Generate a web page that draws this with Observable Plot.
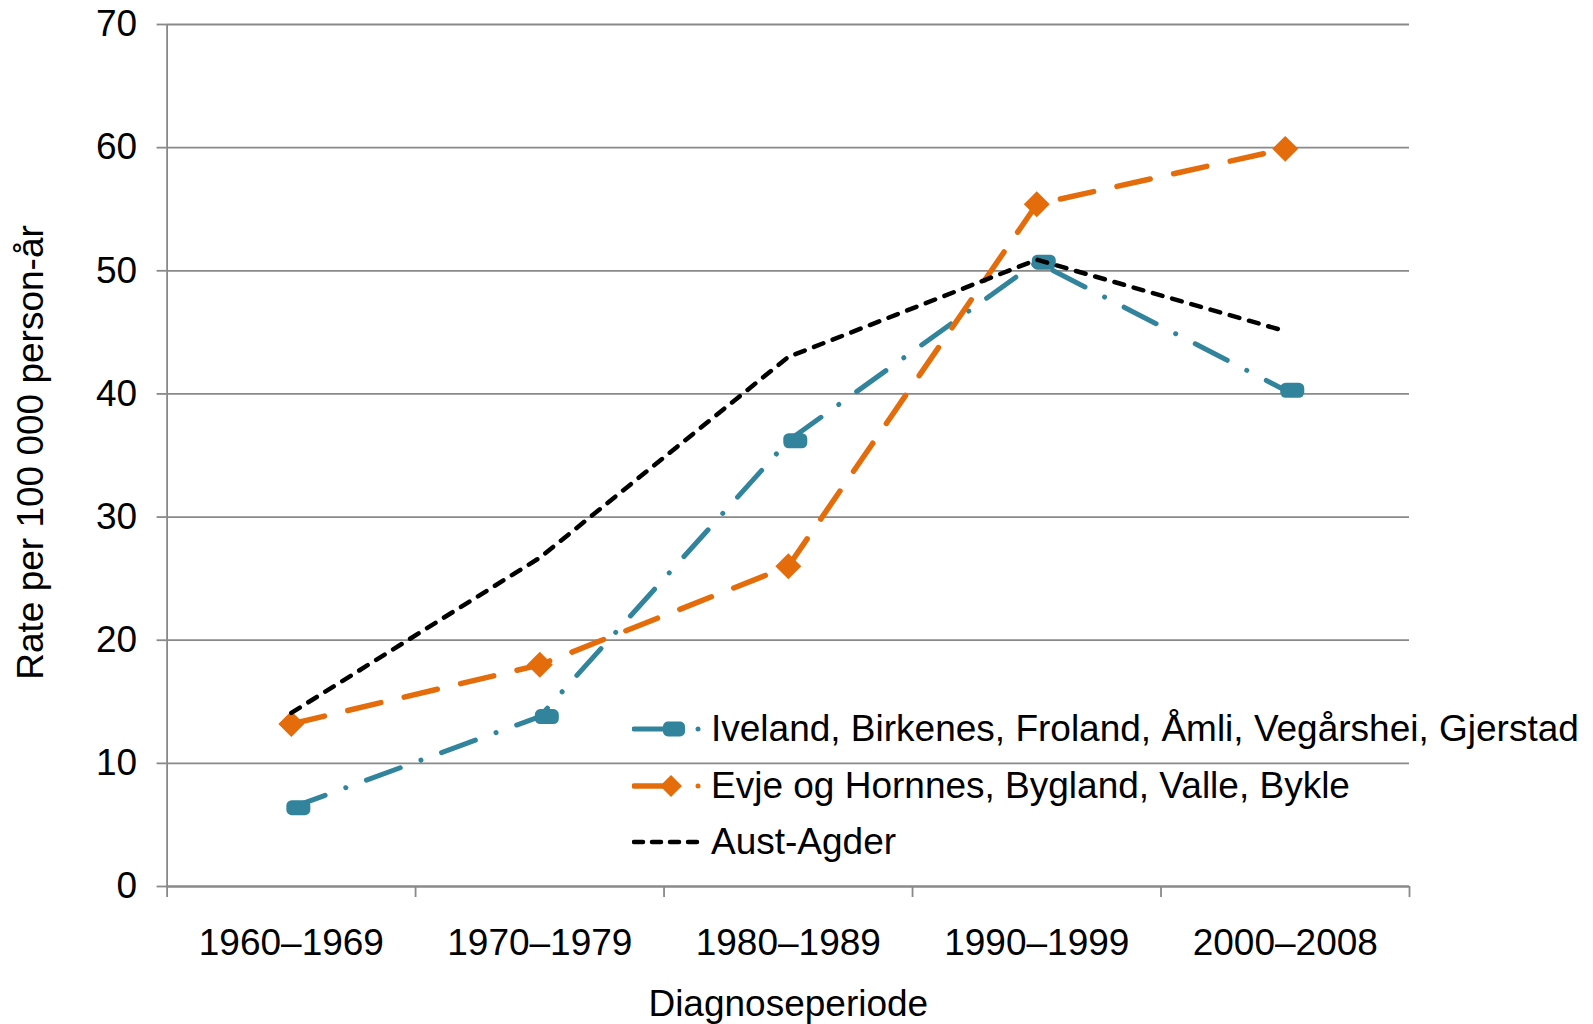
<!DOCTYPE html>
<html><head><meta charset="utf-8">
<script src="https://cdn.jsdelivr.net/npm/d3@7"></script>
<script src="https://cdn.jsdelivr.net/npm/@observablehq/plot@0.6"></script>
<style>
html,body{margin:0;padding:0;background:#fff;}
#wrap{position:relative;width:1593px;height:1024px;font-family:"Liberation Sans",Arial,sans-serif;}
#legend{position:absolute;left:632px;top:701px;}
.row{display:flex;align-items:center;height:56.5px;font-size:37px;color:#000;white-space:nowrap;}
.row svg{flex:none;margin-right:3px;}
</style></head><body><div id="wrap"></div>
<script>
const periods = ["1960–1969","1970–1979","1980–1989","1990–1999","2000–2008"];
const seriesNames = ["Iveland, Birkenes, Froland, Åmli, Vegårshei, Gjerstad","Evje og Hornnes, Bygland, Valle, Bykle","Aust-Agder"];
const innland = [6.4, 13.8, 36.2, 50.7, 40.3];
const setesdal = [13.2, 18.0, 26.0, 55.4, 59.9];
const austAgder = [14.1, 26.7, 43.0, 50.9, 45.1];
const yTicks = [0,10,20,30,40,50,60,70];
const colors = ["#31849B","#E46C0A","#000000"];
const axisGray = "#898989";

const rows = arr => arr.map((v,i)=>({i, v}));
const bounds = d3.range(periods.length+1).map(i=>i-0.5);

const roundRect = {draw(ctx, size){
  const r = Math.sqrt(size/Math.PI);
  const w = r*2, h = r*1.25, rr = r*0.45;
  const x0=-w/2, y0=-h/2, x1=w/2, y1=h/2;
  ctx.moveTo(x0+rr,y0); ctx.lineTo(x1-rr,y0); ctx.arcTo(x1,y0,x1,y0+rr,rr);
  ctx.lineTo(x1,y1-rr); ctx.arcTo(x1,y1,x1-rr,y1,rr); ctx.lineTo(x0+rr,y1);
  ctx.arcTo(x0,y1,x0,y1-rr,rr); ctx.lineTo(x0,y0+rr); ctx.arcTo(x0,y0,x0+rr,y0,rr); ctx.closePath();
}};

const chart = Plot.plot({
  width:1593, height:1024,
  marginLeft:166.6, marginRight:184, marginTop:24, marginBottom:138,
  style:{fontFamily:"'Liberation Sans', Arial, sans-serif", background:"#fff", overflow:"visible"},
  x:{domain:[-0.5, periods.length-0.5]},
  y:{domain:[0,70]},
  marks:[
    Plot.gridY(yTicks, {stroke:axisGray, strokeOpacity:1, strokeWidth:1.8}),
    Plot.axisY(yTicks, {tickSize:10, tickPadding:20, fontSize:37, stroke:axisGray, strokeWidth:1.8, fill:"#000", label:null}),
    Plot.axisX(bounds, {tickSize:11, tickFormat:()=>"", stroke:axisGray, strokeWidth:1.8, label:null}),
    Plot.axisX(d3.range(periods.length), {tickSize:0, tickPadding:42, tickFormat:i=>periods[i], fontSize:37, fill:"#000", label:null}),
    Plot.ruleX([-0.5], {stroke:axisGray, strokeWidth:1.8}),
    Plot.ruleY([0], {stroke:axisGray, strokeWidth:1.8}),
    Plot.line(rows(innland), {x:"i", y:"v", stroke:colors[0], strokeWidth:5, strokeDasharray:"36,22,0.01,22", strokeLinecap:"round", strokeLinejoin:"round"}),
    Plot.dot(rows(innland), {x:"i", y:"v", symbol:roundRect, r:12, dx:7, fill:colors[0], stroke:null}),
    Plot.line(rows(setesdal), {x:"i", y:"v", stroke:colors[1], strokeWidth:5.5, strokeDasharray:"34,24", strokeLinecap:"round", strokeLinejoin:"round"}),
    Plot.dot(rows(setesdal), {x:"i", y:"v", symbol:"diamond2", r:11.7, fill:colors[1], stroke:null}),
    Plot.line(rows(austAgder), {x:"i", y:"v", stroke:colors[2], strokeWidth:4.5, strokeDasharray:"10,10", strokeLinecap:"round", strokeLinejoin:"round"}),
    Plot.text(["Rate per 100 000 person-år"], {text:d=>d, frameAnchor:"left", textAnchor:"middle", lineAnchor:"middle", rotate:-90, dx:-136, dy:-3, fontSize:37, fill:"#000"}),
    Plot.text(["Diagnoseperiode"], {text:d=>d, frameAnchor:"bottom", textAnchor:"middle", lineAnchor:"middle", dy:118, fontSize:37, fill:"#000"})
  ]
});
document.getElementById("wrap").appendChild(chart);

// legend
const legend = document.createElement("div");
legend.id = "legend";
const sw = [
  `<svg width="76" height="30"><line x1="2" y1="15" x2="31" y2="15" stroke="${colors[0]}" stroke-width="5" stroke-linecap="round"/><rect x="31" y="7.5" width="22" height="15" rx="5" fill="${colors[0]}"/><circle cx="66" cy="15" r="2.5" fill="${colors[0]}"/></svg>`,
  `<svg width="76" height="30"><line x1="2" y1="15" x2="30" y2="15" stroke="${colors[1]}" stroke-width="5.5" stroke-linecap="round"/><path d="M39,4 L50,15 L39,26 L28,15 Z" fill="${colors[1]}"/><circle cx="66" cy="15" r="2.5" fill="${colors[1]}"/></svg>`,
  `<svg width="76" height="30"><line x1="2" y1="15" x2="70" y2="15" stroke="#000" stroke-width="4.5" stroke-dasharray="9,9" stroke-linecap="round"/></svg>`
];
seriesNames.forEach((n,k)=>{
  const r = document.createElement("div");
  r.className = "row";
  r.innerHTML = sw[k] + `<span>${n}</span>`;
  legend.appendChild(r);
});
document.getElementById("wrap").appendChild(legend);
</script>
</body></html>
